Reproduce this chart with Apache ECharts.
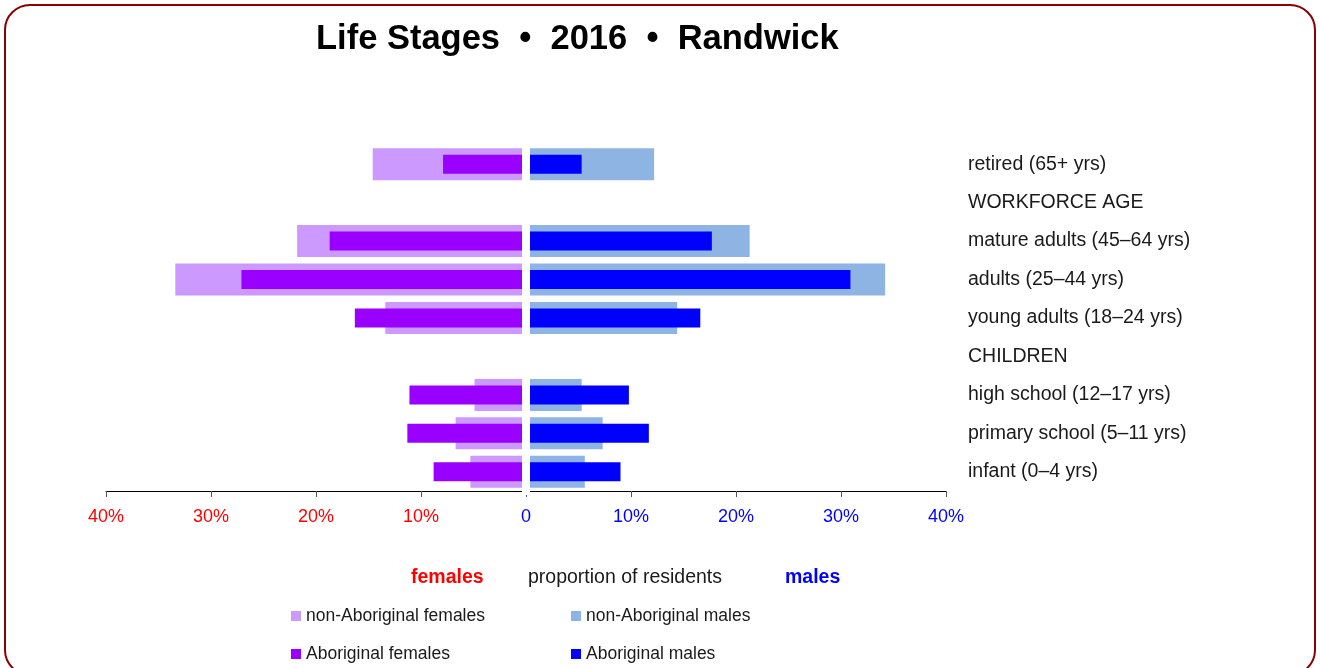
<!DOCTYPE html>
<html>
<head>
<meta charset="utf-8">
<script src="https://cdn.jsdelivr.net/npm/echarts@6/dist/echarts.min.js"></script>
<style>
  html, body { margin:0; padding:0; background:#fff; overflow:hidden; }
  #frame { position:absolute; left:4px; top:4px; width:1312px; height:672px; border:2px solid #8b0000; border-radius:26px; box-sizing:border-box; }
  #chart { position:absolute; left:0; top:0; width:1320px; height:668px; }
</style>
</head>
<body>
<div id="frame"></div>
<div id="chart"></div>
<script>
// categories bottom -> top, heading rows carry no values
const stages = ['infant (0–4 yrs)','primary school (5–11 yrs)','high school (12–17 yrs)','CHILDREN',
    'young adults (18–24 yrs)','adults (25–44 yrs)','mature adults (45–64 yrs)','WORKFORCE AGE','retired (65+ yrs)'];
const nonAborigFemales = [5.3, 6.7, 4.9, null, 13.4, 33.4, 21.8, null, 14.6];
const aborigFemales    = [8.8, 11.3, 11.1, null, 16.3, 27.1, 18.7, null, 7.9];
const nonAborigMales   = [5.6, 7.3, 5.3, null, 14.4, 34.2, 21.3, null, 12.2];
const aborigMales      = [9.0, 11.7, 9.8, null, 16.6, 30.9, 17.7, null, 5.3];

const font = '"Liberation Sans", Arial, sans-serif';
const neg = arr => arr.map(v => v == null ? null : -v);

function legendItem(name, left, top){
    return {
        left:left, top:top, padding:0, icon:'rect', itemWidth:10, itemHeight:10,
        data:[name],
        textStyle:{ fontFamily:font, fontSize:17.5, color:'#1a1a1a' }
    };
}

let myChart = echarts.init(document.getElementById('chart'));
let option = {
    animation:false,
    title:{
        text:'Life Stages  •  2016  •  Randwick',
        left:311, top:17,
        textStyle:{ fontFamily:font, fontSize:34.5, fontWeight:'bold', color:'#000' }
    },
    grid:{ left:106, right:374, top:145, bottom:177 },
    xAxis:{
        type:'value', min:-40, max:40, interval:10,
        axisLine:{ show:true, lineStyle:{ color:'#000', width:1 } },
        axisTick:{ show:true, length:6, lineStyle:{ color:'#555' } },
        splitLine:{ show:false },
        axisLabel:{
            margin:17,
            fontFamily:font, fontSize:18,
            formatter:v => v === 0 ? '0' : Math.abs(v) + '%',
            color:v => Number(v) < 0 ? '#ff0000' : '#0000ff'
        }
    },
    yAxis:[
        {
            type:'category', data:stages, position:'right',
            axisLine:{ show:false }, axisTick:{ show:false },
            axisLabel:{ margin:22, align:'left', fontFamily:font, fontSize:19.5, color:'#1a1a1a' }
        },
        { type:'category', data:stages, show:false }
    ],
    legend:[
        legendItem('non-Aboriginal females', 291, 607),
        legendItem('Aboriginal females', 291, 645),
        legendItem('non-Aboriginal males', 571, 607),
        legendItem('Aboriginal males', 571, 645)
    ],
    graphic:[
        { type:'text', left:411, top:568, style:{ text:'females', fontFamily:font, fontSize:19.5, fontWeight:'bold', fill:'#ff0000' } },
        { type:'text', left:528, top:568, style:{ text:'proportion of residents', fontFamily:font, fontSize:19.5, fill:'#1a1a1a' } },
        { type:'text', left:785, top:568, style:{ text:'males', fontFamily:font, fontSize:19.5, fontWeight:'bold', fill:'#0000ff' } }
    ],
    series:[
        { type:'bar', name:'non-Aboriginal females', yAxisIndex:0, stack:'nonab', barWidth:32,
          itemStyle:{ color:'#cc99ff' }, data:neg(nonAborigFemales) },
        { type:'bar', name:'non-Aboriginal males', yAxisIndex:0, stack:'nonab', barWidth:32,
          itemStyle:{ color:'#8eb4e3' }, data:nonAborigMales },
        { type:'bar', name:'Aboriginal females', yAxisIndex:1, stack:'ab', barWidth:19, z:3,
          itemStyle:{ color:'#9900ff' }, data:neg(aborigFemales) },
        {
            type:'bar', name:'Aboriginal males', yAxisIndex:1, stack:'ab', barWidth:19, z:3,
            itemStyle:{ color:'#0000ff' }, data:aborigMales,
            // white gap down the zero line between the two sides
            markLine:{
                silent:true, symbol:'none', label:{ show:false },
                lineStyle:{ color:'#fff', width:8, type:'solid', cap:'square' },
                data:[{ xAxis:0 }]
            }
        }
    ]
};
myChart.setOption(option);
</script>
</body>
</html>
